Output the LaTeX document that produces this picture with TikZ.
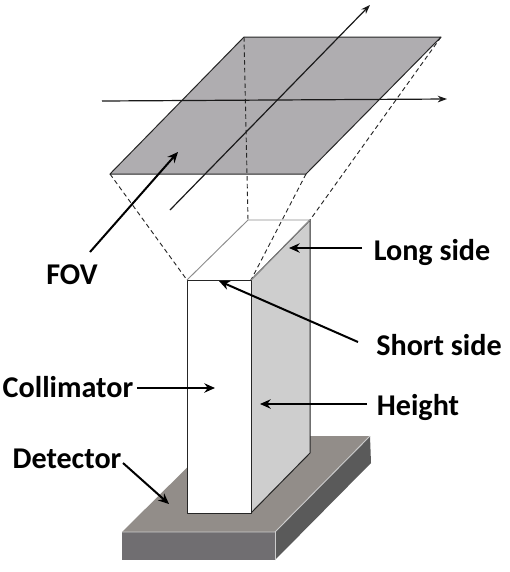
\documentclass[tikz,border=0pt]{standalone}
\usepackage{fontspec}
\setmainfont{Carlito}
\usetikzlibrary{arrows.meta}
\tikzset{
  lbl/.style={font=\fontsize{22.6pt}{26pt}\selectfont\bfseries,inner sep=0pt,text=black},
  pointer/.style={draw=black,line width=1.5pt,-{Stealth[length=8pt,width=7pt]}},
  thinarrow/.style={draw=black!90,line width=0.9pt,-{Stealth[length=7pt,width=5pt]}},
  guide/.style={draw=black!85,line width=0.7pt,dash pattern=on 3.4pt off 2.4pt},
  edge/.style={draw=black!85,line width=0.75pt,line join=round},
}
\definecolor{fovgray}{RGB}{175,173,176}
\definecolor{sidegray}{RGB}{206,206,206}
\definecolor{dettop}{RGB}{146,141,137}
\definecolor{detfront}{RGB}{112,110,113}
\definecolor{detside}{RGB}{90,90,90}
\begin{document}
\begin{tikzpicture}[x=0.75pt,y=-0.75pt]
\useasboundingbox (0,0) rectangle (510,572);
% named points
\coordinate (fa) at (244,37);
\coordinate (fb) at (441,37);
\coordinate (fc) at (306,174);
\coordinate (fd) at (110,174);
\coordinate (cbl) at (248,220);
\coordinate (cbr) at (310,220);
\coordinate (cfr) at (251,280);
\coordinate (cfl) at (187,280);
\coordinate (cbf) at (251,513);
\coordinate (cbb) at (187,513);
\coordinate (csb) at (310,453);
% detector
\fill[dettop] (122,532) -- (219,436) -- (370,436) -- (275,532) -- cycle;
\fill[detfront] (122,532) rectangle (275,560);
\fill[detside] (275,532) -- (370,436) -- (371,463) -- (275,560) -- cycle;
\draw[white!80!black,line width=0.7pt] (122,532) -- (275,532) -- (370,436);
\draw[white!80!black,line width=0.7pt] (275,532) -- (275,560);
% FOV plane
\path[fill=fovgray,edge] (fa) -- (fb) -- (fc) -- (fd) -- cycle;
% FOV projection lines
\draw[guide] (fd) -- (cfl);
\draw[guide] (fa) -- (cbl);
\draw[guide] (fc) -- (cfr);
\draw[guide] (fb) -- (cbr);
% collimator
\path[fill=sidegray,edge] (cfr) -- (cbr) -- (csb) -- (cbf) -- cycle;
\path[fill=white,edge] (cfl) -- (cfr) -- (cbf) -- (cbb) -- cycle;
\draw[black!45,line width=0.7pt] (cfl) -- (cbl) -- (cbr) -- (cfr);
% axes
\coordinate (hs) at (102,101);
\coordinate (he) at (447,99);
\coordinate (ds) at (170,210);
\coordinate (de) at (370,5);
\draw[thinarrow] (hs) -- (he);
\draw[thinarrow] (ds) -- (de);
% labels
\node[lbl] (long) at (432,252) {Long side};
\node[lbl] (short) at (439,345) {Short side};
\node[lbl] (fov) at (72,275) {FOV};
\node[lbl] (coll) at (68,387) {Collimator};
\node[lbl] (height) at (418,407) {Height};
\node[lbl] (det) at (67,459) {Detector};
% pointer targets
\coordinate (tfov) at (178,152);
\coordinate (tlong) at (289,248);
\coordinate (tshort) at (219,281);
\coordinate (tcoll) at (215,388);
\coordinate (theight) at (260,404);
\coordinate (tdet) at (169,504);
\coordinate (sfov) at (90,252);
\coordinate (slong) at (362,248);
\coordinate (sshort) at (358,342);
\coordinate (scoll) at (137,388);
\coordinate (sheight) at (367,404);
\coordinate (sdet) at (123,463);
\draw[pointer] (sfov) -- (tfov);
\draw[pointer] (slong) -- (tlong);
\draw[pointer] (sshort) -- (tshort);
\draw[pointer] (scoll) -- (tcoll);
\draw[pointer] (sheight) -- (theight);
\draw[pointer] (sdet) -- (tdet);
\end{tikzpicture}
\end{document}
